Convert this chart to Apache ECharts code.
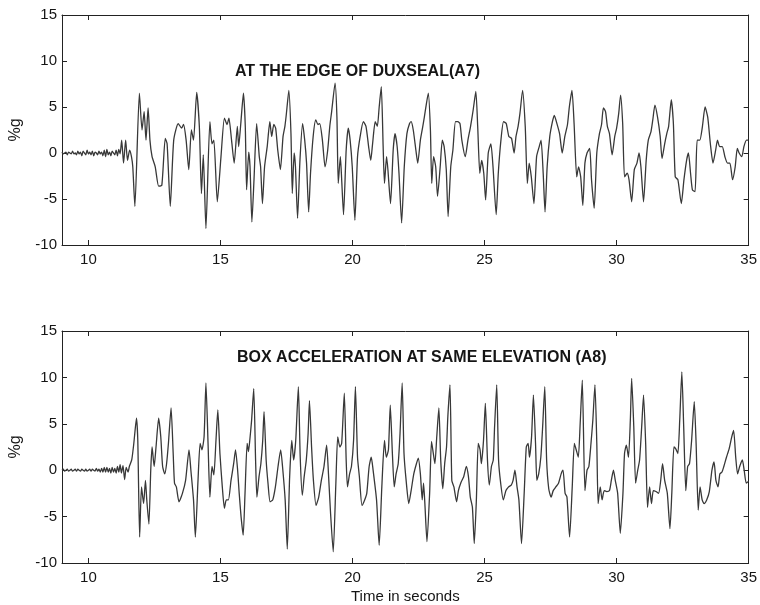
<!DOCTYPE html>
<html><head><meta charset="utf-8">
<script src="https://cdn.jsdelivr.net/npm/echarts@6/dist/echarts.min.js"></script>
<style>html,body{margin:0;padding:0;background:#fff}#c{width:760px;height:605px}</style>
</head><body><div id="c"></div>
<script>
const xTicks = [10, 15, 20, 25, 30, 35];
const topTitle = 'AT THE EDGE OF DUXSEAL(A7)';
const bottomTitle = 'BOX ACCELERATION AT SAME ELEVATION (A8)';
const yName = '%g';
const xName = 'Time in seconds';

const topTime = [
9.00,9.05,9.10,9.15,9.20,9.25,9.30,9.35,9.40,9.45,9.50,9.55,9.60,9.65,9.70,9.75,9.80,9.85,9.90,9.95,
10.00,10.05,10.10,10.15,10.20,10.25,10.30,10.35,10.40,10.45,10.50,10.55,10.60,10.65,10.70,10.75,10.80,10.85,10.90,10.95,
11.00,11.05,11.10,11.15,11.20,11.26,11.33,11.41,11.48,11.56,11.63,11.68,
11.76,11.93,12.03,12.11,12.18,12.26,12.33,12.41,12.53,12.66,12.78,12.91,12.98,13.10,13.23,13.40,13.53,13.60,13.70,13.80,13.90,13.98,
14.10,14.20,14.28,14.35,14.45,14.60,14.68,14.75,14.88,15.02,15.15,15.25,15.32,15.42,15.52,15.64,15.69,15.77,15.87,15.94,15.99,
16.07,16.12,16.19,16.27,16.37,16.47,16.52,16.59,16.67,16.77,16.87,16.94,17.02,17.09,17.17,17.27,17.37,17.44,17.49,17.59,17.67,17.72,17.79,17.84,17.92,
18.01,18.11,18.19,18.26,18.34,18.41,18.51,18.61,18.69,18.76,18.86,18.96,19.06,19.14,19.21,19.34,19.41,19.46,19.54,19.59,19.66,19.76,19.84,19.91,19.99,
20.09,20.19,20.29,20.41,20.51,20.61,20.69,20.76,20.86,20.94,21.01,21.09,21.16,21.21,21.29,21.34,21.44,21.54,21.61,21.69,21.76,21.86,21.96,
22.06,22.16,22.22,22.30,22.40,22.47,22.57,22.65,22.72,22.80,22.87,22.95,23.00,23.07,23.15,23.22,23.32,23.40,23.47,23.55,23.62,23.72,23.80,23.90,23.99,
24.07,24.14,24.27,24.37,24.47,24.57,24.67,24.74,24.82,24.89,24.97,25.04,25.14,25.24,25.32,25.44,25.52,25.62,25.72,25.82,25.92,
26.02,26.12,26.19,26.27,26.34,26.44,26.54,26.62,26.69,26.77,26.87,26.97,27.07,27.14,27.22,27.29,27.37,27.47,27.57,27.64,27.74,27.84,27.94,
28.04,28.14,28.21,28.31,28.39,28.49,28.56,28.64,28.72,28.80,28.88,28.98,29.05,29.15,29.25,29.35,29.43,29.50,29.58,29.65,29.73,29.83,29.93,
30.00,30.08,30.15,30.23,30.30,30.40,30.47,30.57,30.67,30.77,30.85,30.92,31.02,31.12,31.20,31.30,31.37,31.45,31.55,31.65,31.72,31.82,31.90,31.97,
32.07,32.15,32.22,32.32,32.45,32.55,32.65,32.72,32.80,32.87,32.97,33.05,33.15,33.25,33.35,33.45,33.55,33.65,33.75,33.82,33.90,
34.00,34.10,34.20,34.29,34.39,34.49,34.57,34.64,34.74,34.82,34.92,35.00
];
const topValue = [
0.1,-0.1,0.0,0.1,-0.2,0.1,0.0,-0.1,0.2,-0.1,0.0,-0.2,0.2,-0.1,0.1,-0.3,0.2,0.0,-0.2,0.3,
-0.1,0.1,-0.2,0.2,-0.3,0.1,0.0,-0.2,0.2,-0.1,0.1,-0.3,0.3,-0.4,0.4,-0.2,0.1,-0.3,0.2,0.0,
-0.2,0.3,-0.3,0.4,-0.1,1.4,-1.1,1.4,-0.8,0.3,-0.4,-1.5,
-5.8,6.5,2.5,4.5,1.4,4.9,1.4,-0.4,-1.5,-3.6,-3.5,1.6,1.0,-5.8,1.4,3.2,2.7,3.1,1.4,-1.8,2.5,1.4,
6.6,2.9,-4.4,-0.2,-8.2,3.4,1.0,1.4,-5.3,-0.4,3.8,3.1,3.8,1.4,-1.1,2.9,0.7,3.2,6.5,2.9,-4.0,
0.1,-1.5,-7.5,-2.9,3.2,-0.4,-1.5,-5.5,-1.5,0.7,3.4,1.8,3.1,2.7,0.3,-1.8,1.8,2.9,4.1,6.8,2.1,-4.4,0.0,-1.5,-7.1,
-0.8,3.2,1.4,-1.1,-6.4,-2.2,1.8,3.6,3.1,3.2,1.4,-1.5,0.3,2.9,4.5,7.6,3.9,-3.3,-0.4,-2.9,-6.7,0.3,2.7,1.4,-1.5,
-7.3,-0.4,1.8,3.4,2.9,0.7,-0.8,1.0,3.4,2.9,5.0,7.2,0.7,-3.3,-0.4,-1.8,-5.5,0.3,2.1,0.7,-2.2,-7.6,-1.5,
2.1,3.2,3.4,2.5,0.3,-1.1,1.4,2.7,3.9,5.4,6.5,2.5,-3.3,-0.4,-1.5,-4.7,-1.5,1.4,0.7,-1.8,-6.9,-1.5,0.3,3.4,3.4,
3.2,1.4,-0.4,1.4,2.9,4.7,6.7,2.9,-2.2,-0.8,-2.2,-5.1,0.0,1.0,-1.5,-6.7,-2.2,1.4,3.4,3.2,1.8,
1.6,0.0,1.8,2.9,4.3,6.8,2.9,-3.3,-1.1,-2.6,-5.5,-0.4,0.7,1.4,-2.2,-6.4,-1.5,1.8,3.4,4.1,3.2,2.1,0.0,
1.8,3.1,5.0,6.8,3.2,-2.6,-1.5,-2.6,-5.7,-1.1,0.0,0.5,-2.9,-6.0,0.0,2.1,3.1,4.9,4.5,2.9,2.1,-0.2,1.8,
2.7,4.3,6.3,3.2,-2.6,-2.2,-2.9,-5.3,-1.8,-1.1,0.0,-1.5,-5.3,-0.8,1.4,2.3,3.6,5.2,3.9,1.8,-0.6,1.0,2.1,2.9,
5.8,3.2,-2.6,-2.9,-5.5,-2.9,-0.8,0.0,-2.2,-4.0,-4.2,1.4,1.4,2.9,5.0,3.9,1.0,-1.1,0.3,1.4,0.7,
0.7,-0.4,-1.1,-1.1,-2.9,-1.5,0.5,0.0,-0.4,0.7,1.4,1.4
];

const bottomTime = [
9.00,9.05,9.10,9.15,9.20,9.25,9.30,9.35,9.40,9.45,9.50,9.55,9.60,9.65,9.70,9.75,9.80,9.85,9.90,9.95,
10.00,10.05,10.10,10.15,10.20,10.25,10.30,10.35,10.40,10.45,10.50,10.55,10.60,10.65,10.70,10.75,10.80,10.85,10.90,10.95,
11.00,11.05,11.10,11.15,11.20,11.25,11.31,11.37,11.43,11.50,11.55,11.64,
11.72,11.82,11.87,11.94,12.01,12.09,12.16,12.21,12.29,12.36,12.41,12.49,12.56,12.66,12.74,12.81,12.89,12.96,
13.03,13.13,13.21,13.26,13.33,13.43,13.56,13.68,13.81,13.88,13.98,14.05,14.15,14.23,14.30,14.38,14.45,14.53,14.60,14.68,14.75,14.83,14.90,14.98,
15.07,15.15,15.22,15.30,15.40,15.50,15.57,15.65,15.71,15.78,15.86,15.93,16.01,16.06,16.11,16.18,16.26,16.33,16.38,16.46,16.53,16.60,16.65,16.73,16.80,16.88,16.98,
17.08,17.18,17.28,17.35,17.45,17.53,17.62,17.70,17.77,17.85,17.95,18.02,18.10,18.17,18.25,18.32,18.37,18.45,18.52,18.62,18.72,18.82,18.92,
19.02,19.09,19.17,19.27,19.37,19.44,19.52,19.59,19.69,19.76,19.81,19.89,19.96,20.04,20.11,20.19,20.26,20.36,20.46,20.54,20.63,20.71,20.78,20.91,
21.01,21.11,21.21,21.28,21.36,21.43,21.51,21.58,21.65,21.73,21.80,21.88,21.95,22.03,22.13,22.22,22.32,22.42,22.49,22.57,22.64,22.69,22.74,22.82,22.92,22.99,
23.04,23.12,23.19,23.27,23.34,23.42,23.49,23.56,23.61,23.69,23.76,23.84,23.94,24.01,24.11,24.21,24.31,24.39,24.46,24.54,24.61,24.69,24.76,24.83,24.88,24.96,
25.03,25.11,25.18,25.26,25.33,25.38,25.46,25.53,25.61,25.71,25.81,25.91,26.01,26.08,26.15,26.23,26.30,26.40,26.50,26.58,26.65,26.70,26.78,26.85,26.93,26.98,
27.05,27.13,27.20,27.28,27.35,27.43,27.52,27.60,27.70,27.80,27.90,27.97,28.05,28.12,28.22,28.32,28.40,28.47,28.55,28.62,28.70,28.80,28.88,28.95,
29.03,29.10,29.18,29.25,29.30,29.38,29.45,29.53,29.63,29.73,29.80,29.88,29.95,30.04,30.14,30.24,30.30,30.37,30.45,30.52,30.57,30.65,30.72,30.80,30.87,30.95,
31.02,31.10,31.17,31.25,31.32,31.39,31.49,31.59,31.67,31.74,31.82,31.92,32.02,32.09,32.17,32.24,32.32,32.39,32.47,32.54,32.62,32.69,32.76,32.84,32.94,
33.01,33.09,33.16,33.24,33.31,33.41,33.51,33.61,33.69,33.76,33.84,33.91,33.99,34.06,34.16,34.26,34.36,34.43,34.51,34.58,34.66,34.76,34.83,34.91,35.00
];
const bottomValue = [
0.0,0.1,-0.1,0.0,0.1,-0.1,0.0,0.1,-0.1,0.0,0.1,-0.1,0.1,0.0,-0.1,0.1,0.0,-0.1,0.1,-0.1,
0.0,0.1,-0.1,0.1,0.0,-0.1,0.2,-0.1,0.1,-0.2,0.2,-0.2,0.3,-0.2,0.3,-0.2,0.2,-0.3,0.3,-0.2,
0.2,-0.3,0.4,-0.2,0.6,-0.3,0.5,-1.0,0.3,-0.2,0.4,1.1,
2.9,5.6,3.2,-7.2,-1.8,-3.6,-1.1,-3.2,-5.8,0.0,2.5,0.4,2.5,5.6,3.6,0.4,-0.4,0.7,
2.9,6.7,1.8,-1.4,-1.8,-3.4,-2.5,-1.1,2.2,0.0,-3.2,-7.2,-1.1,2.9,2.2,3.6,9.4,2.9,-2.9,0.4,-0.5,3.2,6.5,1.8,
-1.8,-4.1,-3.2,-3.2,-1.1,0.7,2.2,0.0,-2.5,-5.0,-7.0,-2.5,2.9,2.0,3.2,5.4,8.8,1.1,-2.9,-0.7,0.7,3.2,6.3,1.1,-1.4,-3.4,-3.2,
-1.8,0.4,2.2,0.4,-3.2,-8.5,-0.7,3.2,1.1,3.2,9.0,1.4,-2.7,-0.7,1.1,4.0,7.5,2.5,-1.1,-3.8,-2.9,-1.1,0.4,
2.7,-0.4,-4.7,-8.8,-1.4,3.6,2.5,2.9,8.3,1.1,-1.8,-0.4,0.4,3.2,9.0,1.4,-0.7,-3.8,-3.2,-2.5,0.4,1.4,0.0,-3.2,
-8.1,-1.8,3.2,1.4,2.2,7.0,1.8,-1.8,-0.4,0.7,4.0,9.4,1.8,-1.1,-3.6,-2.2,-0.4,0.7,1.3,-0.4,-3.2,-1.4,-3.6,-7.7,-2.5,3.1,
2.2,0.7,3.6,6.7,1.1,-2.0,0.7,2.5,5.8,9.2,-1.1,-1.8,-3.4,-2.2,-1.3,-0.7,0.4,-0.7,-2.9,-4.0,-7.9,-3.2,2.9,2.2,0.7,3.2,
7.2,1.1,-1.6,0.4,1.1,4.7,9.2,1.1,-1.4,-3.2,-2.2,-1.8,-1.6,-1.1,0.0,-1.8,-3.2,-7.9,-2.5,2.5,2.9,1.4,3.6,8.1,2.9,-1.1,
-0.4,1.4,4.7,9.0,1.1,-2.0,-2.9,-2.2,-1.8,-1.4,-0.4,0.0,-2.5,-2.9,-7.2,-1.8,2.9,2.2,1.4,5.0,9.7,-2.2,0.0,0.4,
2.9,5.4,9.2,2.9,-3.6,-1.8,-3.2,-2.2,-2.3,-2.2,-1.1,0.0,-1.1,-2.5,-6.8,-2.5,1.8,2.7,1.4,5.4,9.9,4.7,-1.4,0.0,1.1,4.7,
8.1,2.9,-4.0,-1.8,-3.6,-2.2,-2.3,-2.5,-1.1,0.7,-1.1,-2.5,-6.3,-2.5,2.5,2.3,1.8,5.4,10.6,4.7,-2.2,0.4,0.7,3.2,7.4,
2.9,-4.3,-1.8,-3.2,-3.6,-3.2,-2.3,0.0,0.9,-1.1,-1.8,-0.4,-0.2,0.4,1.4,2.3,3.6,4.3,1.4,-0.4,0.4,1.1,0.0,-1.4,-1.2
];

const FONT = '"Liberation Sans", Arial, sans-serif';
const INK = '#151515';
const pairs = (t, v) => t.map((x, i) => [x, v[i]]);

function xAxisFor(grid, pos, labels) {
  return {
    type: 'value', gridIndex: grid, position: pos, min: 9, max: 35,
    axisLine: { show: true, onZero: false, lineStyle: { color: '#222', width: 1 } },
    axisTick: { show: true, inside: true, length: 5, customValues: xTicks, lineStyle: { color: '#222' } },
    axisLabel: { show: labels, customValues: xTicks, fontFamily: FONT, fontSize: 15, color: INK, margin: 7 },
    splitLine: { show: false }
  };
}
function yAxisFor(grid, pos, labels) {
  return {
    type: 'value', gridIndex: grid, position: pos, min: -10, max: 15, interval: 5,
    axisLine: { show: true, onZero: false, lineStyle: { color: '#222', width: 1 } },
    axisTick: { show: true, inside: true, length: 5, lineStyle: { color: '#222' } },
    axisLabel: { show: labels, fontFamily: FONT, fontSize: 15, color: INK, margin: 5 },
    splitLine: { show: false }
  };
}

const chart = echarts.init(document.getElementById('c'), null, { renderer: 'canvas' });
const xa0 = xAxisFor(0, 'bottom', true);
const xa2 = xAxisFor(1, 'bottom', true);
xa2.name = xName; xa2.nameLocation = 'middle'; xa2.nameGap = 26;
xa2.nameTextStyle = { fontFamily: FONT, fontSize: 15, color: INK };
const ya0 = yAxisFor(0, 'left', true);
const ya2 = yAxisFor(1, 'left', true);
[ya0, ya2].forEach(a => { a.name = yName; a.nameLocation = 'middle'; a.nameGap = 38;
  a.nameTextStyle = { fontFamily: FONT, fontSize: 16, color: INK }; });

chart.setOption({
  backgroundColor: '#fff',
  animation: false,
  grid: [
    { left: 58, right: 8, top: 15, height: 230 },
    { left: 58, right: 8, top: 331, height: 232 }
  ],
  xAxis: [xa0, xAxisFor(0, 'top', false), xa2, xAxisFor(1, 'top', false)],
  yAxis: [ya0, yAxisFor(0, 'right', false), ya2, yAxisFor(1, 'right', false)],
  graphic: [
    { type: 'text', left: 235, top: 64, style: { text: topTitle, font: 'bold 16px ' + FONT, fill: INK } },
    { type: 'text', left: 237, top: 350, style: { text: bottomTitle, font: 'bold 16px ' + FONT, fill: INK } }
  ],
  series: [
    { type: 'line', xAxisIndex: 0, yAxisIndex: 0, data: pairs(topTime, topValue), showSymbol: false,
      smooth: 0.2, lineStyle: { color: '#383838', width: 1.3 } },
    { type: 'line', xAxisIndex: 2, yAxisIndex: 2, data: pairs(bottomTime, bottomValue), showSymbol: false,
      smooth: 0.2, lineStyle: { color: '#383838', width: 1.3 } }
  ]
});
</script></body></html>
